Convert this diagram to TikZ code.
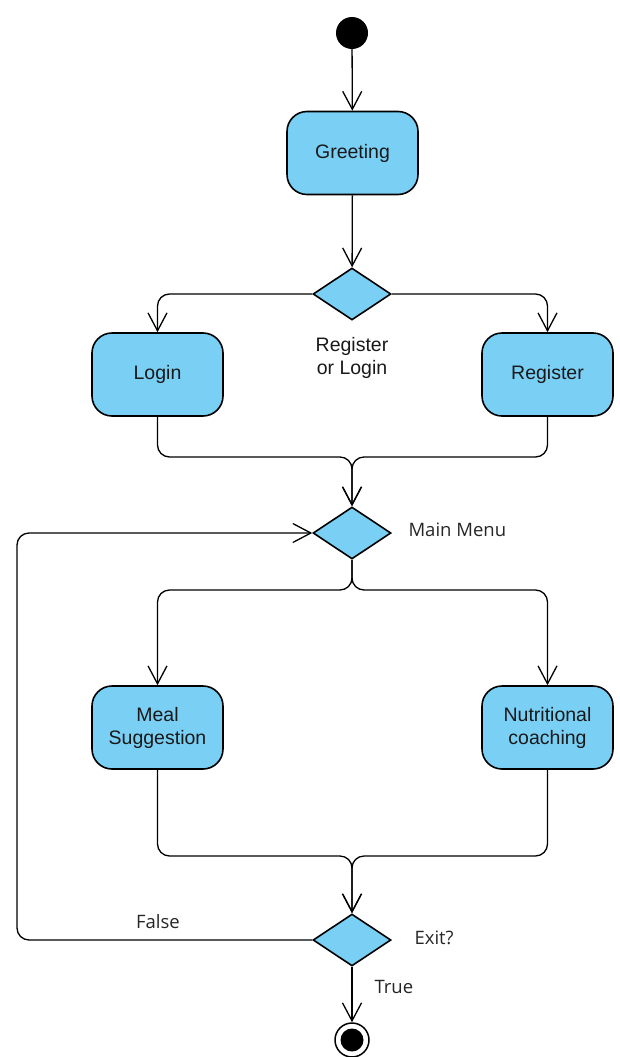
\documentclass[tikz,border=0pt]{standalone}
\usepackage{fontspec}
\setmainfont{Liberation Sans}
\newfontfamily\guardfont{Open Sans}
\usetikzlibrary{shapes.geometric,arrows.meta}
\definecolor{actfill}{RGB}{122,207,245}

\begin{document}
\begin{tikzpicture}[x=1pt,y=-1pt,
  activity/.style={draw=black, line width=1.6pt, fill=actfill, rounded corners=20pt,
    minimum width=131pt, minimum height=83pt, align=center,
    font=\fontsize{19.5}{23}\selectfont, text=black!90},
  decision/.style={draw=black, line width=1.6pt, fill=actfill, diamond,
    inner sep=0pt, minimum width=78pt, minimum height=52pt},
  flow/.style={line width=1.3pt, rounded corners=12pt,
    -{Straight Barb[length=18pt,width=19pt,line width=1.3pt]}},
  guard/.style={font=\guardfont\fontsize{18.5}{22}\selectfont, text=black!85}
]
\useasboundingbox (0,0) rectangle (619,1057);

% initial and final states
\node[circle, fill=black, minimum size=32pt, inner sep=0pt] (start) at (352,33) {};
\node[circle, draw=black, line width=1.5pt, fill=white, minimum size=34pt, inner sep=0pt] (end) at (352,1040) {};
\node[circle, fill=black, minimum size=23pt, inner sep=0pt] (endcore) at (end) {};

% activities
\node[activity] (greet) at (352.5,153) {Greeting};
\node[activity] (login) at (157.5,374.5) {Login};
\node[activity] (reg) at (547.5,374.5) {Register};
\node[activity] (meal) at (157.5,727.5) {Meal\\Suggestion};
\node[activity] (coach) at (547.5,727.5) {Nutritional\\coaching};

% decisions
\node[decision] (d1) at (352,294) {};
\node[decision] (menu) at (352,533) {};
\node[decision] (exit) at (352,940) {};

% labels
\node[align=center, font=\fontsize{19.5}{23}\selectfont, text=black!90] (d1lbl) at (352,358) {Register\\or Login};
\node[guard, anchor=west] (menulbl) at (405,530) {Main Menu};
\node[guard, anchor=west] (exitlbl) at (411,938) {Exit?};
\node[guard] (falselbl) at (158,922) {False};
\node[guard, anchor=west] (truelbl) at (371,987) {True};

% routing points
\coordinate (join1) at (352,457);
\coordinate (split) at (352,590);
\coordinate (join2) at (352,856);
\coordinate (loop) at (17,940);

% control flow
\draw[flow] (start) -- (greet);
\draw[flow] (greet) -- (d1);
\draw[flow] (d1.west) -| (login.north);
\draw[flow] (d1.east) -| (reg.north);
\draw[flow] (login.south) |- (join1) -- (menu.north);
\draw[flow] (reg.south) |- (join1) -- (menu.north);
\draw[flow] (menu.south) -- (split) -| (meal.north);
\draw[flow] (menu.south) -- (split) -| (coach.north);
\draw[flow] (meal.south) |- (join2) -- (exit.north);
\draw[flow] (coach.south) |- (join2) -- (exit.north);
\draw[flow] (exit.west) -- (loop) |- (menu.west);
\draw[flow] (exit.south) -- (end);
\end{tikzpicture}
\end{document}
